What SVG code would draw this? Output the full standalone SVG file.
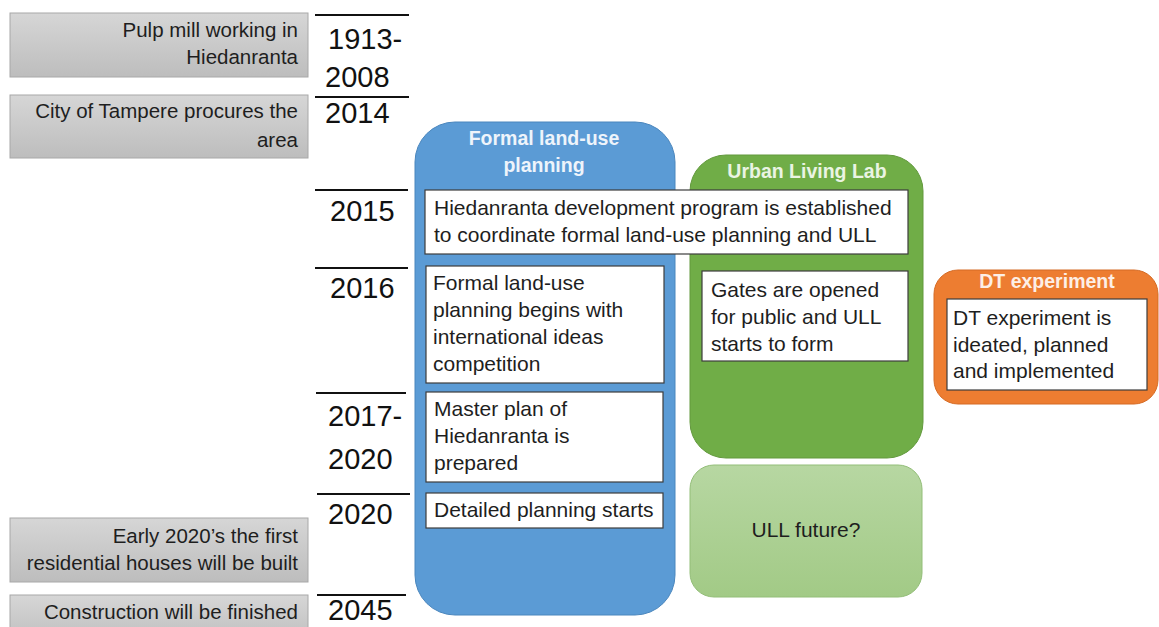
<svg xmlns="http://www.w3.org/2000/svg" width="1159" height="627" viewBox="0 0 1159 627">
<defs>
<linearGradient id="gGray" x1="0" y1="0" x2="0" y2="1">
<stop offset="0" stop-color="#D6D6D6"/>
<stop offset="1" stop-color="#BDBDBD"/>
</linearGradient>
<linearGradient id="gLight" x1="0" y1="0" x2="0" y2="1">
<stop offset="0" stop-color="#B7D7A2"/>
<stop offset="1" stop-color="#A2CA86"/>
</linearGradient>
</defs>
<style>
text{font-family:"Liberation Sans",Arial,sans-serif;}
.gray{fill:url(#gGray);stroke:#A8A8A8;stroke-width:1;}
.gt{font-size:20.5px;fill:#1E1E1E;text-anchor:end;}
.yr{font-size:29px;fill:#111;}
.tick{stroke:#111;stroke-width:2;}
.wb{fill:#FFFFFF;stroke:#3C3C3C;stroke-width:1.2;}
.bt{font-size:21px;fill:#1E1E1E;}
.title{font-size:19.5px;font-weight:bold;text-anchor:middle;}
</style>
<rect width="1159" height="627" fill="#FFFFFF"/>

<g id="connectors">
<g id="timeline">
<line class="tick" x1="315" y1="15" x2="409" y2="15"/>
<line class="tick" x1="315" y1="97" x2="409" y2="97"/>
<line class="tick" x1="315" y1="190" x2="408" y2="190"/>
<line class="tick" x1="315" y1="268" x2="408" y2="268"/>
<line class="tick" x1="316" y1="393" x2="406" y2="393"/>
<line class="tick" x1="317" y1="494" x2="410" y2="494"/>
<line class="tick" x1="317" y1="595" x2="406" y2="595"/>
</g>
</g>

<g id="years">
<text class="yr" x="328" y="49">1913-</text>
<text class="yr" x="325" y="87">2008</text>
<text class="yr" x="325" y="123">2014</text>
<text class="yr" x="330" y="221">2015</text>
<text class="yr" x="330" y="298">2016</text>
<text class="yr" x="328" y="426">2017-</text>
<text class="yr" x="328" y="469">2020</text>
<text class="yr" x="328" y="524">2020</text>
<text class="yr" x="328" y="620">2045</text>
</g>

<g id="event-pulp-mill">
<rect class="gray" x="10" y="13" width="298" height="64"/>
<text class="gt" x="298" y="37">Pulp mill working in</text>
<text class="gt" x="298" y="64">Hiedanranta</text>
</g>
<g id="event-procure">
<rect class="gray" x="10" y="95" width="298" height="63"/>
<text class="gt" x="298" y="118">City of Tampere procures the</text>
<text class="gt" x="298" y="147">area</text>
</g>
<g id="event-houses">
<rect class="gray" x="10" y="518" width="298" height="64"/>
<text class="gt" x="298" y="543">Early 2020’s the first</text>
<text class="gt" x="298" y="570">residential houses will be built</text>
</g>
<g id="event-construction">
<rect class="gray" x="10" y="595" width="298" height="50"/>
<text class="gt" x="298" y="619">Construction will be finished</text>
</g>

<g id="lane-formal">
<rect x="415" y="122" width="260" height="493" rx="40" ry="40" fill="#5B9BD5" stroke="#4A86BD" stroke-width="1"/>
<text class="title" x="544" y="145" fill="#EEF4FB">Formal land-use</text>
<text class="title" x="544" y="172" fill="#EEF4FB">planning</text>
</g>

<g id="lane-ull">
<rect x="690" y="155" width="233" height="303" rx="36" ry="36" fill="#70AD47" stroke="#62993D" stroke-width="1"/>
<text class="title" x="807" y="178" fill="#EAF4E3">Urban Living Lab</text>
</g>

<g id="ull-future">
<rect x="690" y="465" width="232" height="132" rx="24" ry="24" fill="url(#gLight)" stroke="#93BE78" stroke-width="1"/>
<text class="bt" x="806" y="537" text-anchor="middle">ULL future?</text>
</g>

<g id="lane-dt">
<rect x="934" y="270" width="224" height="134" rx="24" ry="24" fill="#ED7D31" stroke="#D56B25" stroke-width="1"/>
<text class="title" x="1047" y="288" fill="#FDEFE6">DT experiment</text>
</g>

<g id="box-2015">
<rect class="wb" x="425" y="190" width="483" height="64"/>
<text class="bt" x="434" y="215">Hiedanranta development program is established</text>
<text class="bt" x="434" y="242">to coordinate formal land-use planning and ULL</text>
</g>

<g id="box-competition">
<rect class="wb" x="426" y="266" width="238" height="117"/>
<text class="bt" x="433" y="290">Formal land-use</text>
<text class="bt" x="433" y="317">planning begins with</text>
<text class="bt" x="433" y="344">international ideas</text>
<text class="bt" x="433" y="371">competition</text>
</g>

<g id="box-gates">
<rect class="wb" x="702" y="271" width="206" height="90"/>
<text class="bt" x="711" y="297">Gates are opened</text>
<text class="bt" x="711" y="324">for public and ULL</text>
<text class="bt" x="711" y="351">starts to form</text>
</g>

<g id="box-master">
<rect class="wb" x="426" y="392" width="237" height="90"/>
<text class="bt" x="434" y="416">Master plan of</text>
<text class="bt" x="434" y="443">Hiedanranta is</text>
<text class="bt" x="434" y="470">prepared</text>
</g>

<g id="box-detailed">
<rect class="wb" x="426" y="493" width="237" height="35"/>
<text class="bt" x="434" y="517">Detailed planning starts</text>
</g>

<g id="box-dt">
<rect class="wb" x="947" y="299" width="200" height="91"/>
<text class="bt" x="953" y="325">DT experiment is</text>
<text class="bt" x="953" y="352">ideated, planned</text>
<text class="bt" x="953" y="378">and implemented</text>
</g>
</svg>
